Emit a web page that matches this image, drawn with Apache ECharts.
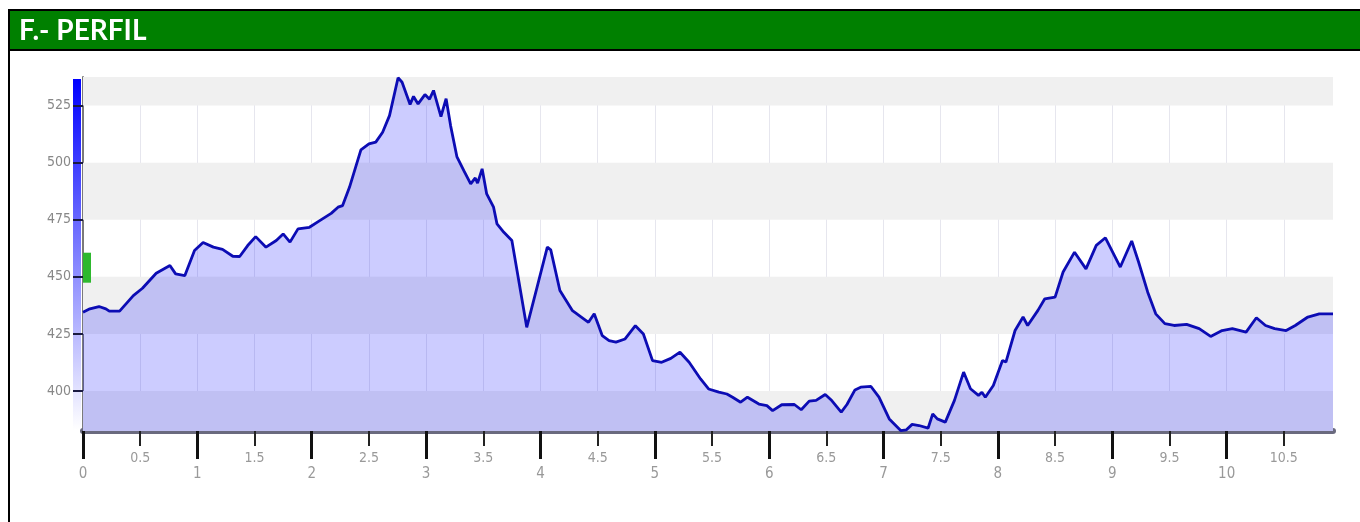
<!DOCTYPE html>
<html><head><meta charset="utf-8">
<script src="https://cdn.jsdelivr.net/npm/echarts@6/dist/echarts.min.js"></script>
<style>html,body{margin:0;padding:0;background:#fff}#c{width:1360px;height:522px}</style>
</head><body><div id="c"></div>
<script>
const title = 'F.- PERFIL';
const distanceKm = [0.00,0.06,0.14,0.20,0.23,0.32,0.44,0.52,0.64,0.76,0.81,0.89,0.975,1.05,1.14,1.22,1.31,1.37,1.44,1.51,1.60,1.69,1.75,1.81,1.88,1.98,2.07,2.17,2.23,2.27,2.33,2.43,2.50,2.56,2.62,2.68,2.755,2.79,2.86,2.89,2.93,2.99,3.03,3.065,3.13,3.175,3.215,3.27,3.33,3.39,3.43,3.45,3.49,3.53,3.59,3.62,3.68,3.75,3.81,3.88,3.97,4.06,4.09,4.17,4.28,4.36,4.42,4.47,4.54,4.60,4.66,4.74,4.83,4.90,4.98,5.06,5.14,5.22,5.30,5.40,5.47,5.56,5.63,5.68,5.75,5.81,5.91,5.98,6.03,6.11,6.22,6.28,6.35,6.41,6.49,6.54,6.63,6.68,6.75,6.80,6.89,6.96,7.05,7.15,7.20,7.25,7.31,7.39,7.43,7.47,7.54,7.62,7.70,7.76,7.83,7.86,7.89,7.96,8.04,8.07,8.15,8.22,8.26,8.35,8.41,8.50,8.57,8.67,8.77,8.86,8.94,9.07,9.17,9.23,9.31,9.38,9.46,9.54,9.65,9.76,9.86,9.96,10.05,10.17,10.26,10.34,10.42,10.52,10.60,10.71,10.81,10.93];
const elevationM = [434.5,436,437,436,435,435,441.8,445,451.6,455,451.3,450.5,461.5,465,463,462,459,458.9,463.7,467.6,463,465.9,468.8,465.2,471,471.7,474.6,477.8,480.5,481.2,489.2,505.6,508.2,509,513.3,520.6,537.2,535.2,525.5,529,525.7,529.8,527.8,531.6,520.2,528,516,502.5,496.5,490.7,493.3,491,497.3,486.3,480.5,473.2,469.5,465.9,448.4,427.9,445.4,463,461.8,444,435.2,432.3,430.1,433.8,424.3,422.1,421.4,422.8,428.6,425,413.3,412.6,414.3,417,412.6,405.3,400.9,399.5,398.7,397.3,395.1,397.3,394.3,393.6,391.4,394,394.1,391.8,395.6,395.9,398.5,396.2,390.8,394.1,400.5,401.7,402,397.3,387.8,382.7,383,385.4,384.9,383.8,390,387.8,386.4,395.9,408.3,401,398.1,399.5,397.3,402.4,413.4,412.7,426.5,432.4,428.7,435.3,440.4,441.1,452.1,460.8,453.5,463.8,467.1,454.3,465.7,456.5,443.3,433.8,429.5,428.7,429.2,427.3,423.9,426.5,427.3,425.8,432.1,428.7,427.3,426.5,428.7,432.4,433.8,433.8];
const yTicks = [400,425,450,475,500,525];
const xHalfTicks = [0,0.5,1,1.5,2,2.5,3,3.5,4,4.5,5,5.5,6,6.5,7,7.5,8,8.5,9,9.5,10,10.5];
const xHalfLabels = [0.5,1.5,2.5,3.5,4.5,5.5,6.5,7.5,8.5,9.5,10.5];
const xIntTicks = [0,1,2,3,4,5,6,7,8,9,10];
const startMarker = [0, 454];
const yMin = 382.5, yMax = 537.5, xMax = 10.93;

const narrow = "'Liberation Sans Narrow','DejaVu Sans Condensed','Roboto Condensed',sans-serif";
const edges = [yMin].concat(yTicks, [yMax]);
const bands = [];
for (let i = 0; i + 1 < edges.length; i += 2) bands.push([{yAxis: edges[i]}, {yAxis: edges[i + 1]}]);
const profile = distanceKm.map((d, i) => [d, elevationM[i]]);

const chart = echarts.init(document.getElementById('c'));
chart.setOption({
  animation: false,
  backgroundColor: '#fff',
  grid: {left: 83, right: 27, top: 77, bottom: 91, containLabel: false},
  xAxis: [{
    type: 'value', min: 0, max: xMax, interval: 0.5, position: 'bottom',
    axisLine: {show: true, onZero: false, lineStyle: {color: '#6a6a7e', width: 6}},
    axisTick: {show: true, length: 15, customValues: xHalfTicks, lineStyle: {color: '#222', width: 2}},
    axisLabel: {show: true, customValues: xHalfLabels, margin: 20, color: '#999', fontSize: 14, fontFamily: narrow},
    splitLine: {show: true, lineStyle: {color: '#e6e6ee', width: 1}}
  }, {
    type: 'value', min: 0, max: xMax, interval: 1, position: 'bottom',
    axisLine: {show: false},
    axisTick: {show: true, length: 28, customValues: xIntTicks, lineStyle: {color: '#111', width: 3}},
    axisLabel: {show: true, customValues: xIntTicks, margin: 36, color: '#999', fontSize: 15, fontFamily: narrow},
    splitLine: {show: false}
  }],
  yAxis: {
    type: 'value', min: yMin, max: yMax,
    axisLine: {show: true, lineStyle: {color: '#7a7a7a', width: 2}},
    axisTick: {show: true, length: 10, customValues: yTicks, lineStyle: {color: '#1a1a40', width: 2}},
    axisLabel: {show: true, customValues: yTicks, margin: 12, color: '#888', fontSize: 14, fontFamily: narrow},
    splitLine: {show: false}
  },
  graphic: [
    {type: 'rect', z: 100, shape: {x: 10, y: 11, width: 1352, height: 38}, style: {fill: '#008000'}},
    {type: 'rect', z: 101, shape: {x: 9, y: 10, width: 1360, height: 540}, style: {fill: 'none', stroke: '#000', lineWidth: 2}},
    {type: 'line', z: 101, shape: {x1: 9, y1: 50, x2: 1362, y2: 50}, style: {stroke: '#000', lineWidth: 2}},
    {type: 'text', z: 102, style: {text: title, x: 19, y: 31, verticalAlign: 'middle', fill: '#fff', font: "bold 28px Lato, 'Open Sans', sans-serif"}},
    {type: 'rect', z: -1, shape: {x: 73, y: 79, width: 8, height: 351},
      style: {fill: new echarts.graphic.LinearGradient(0, 0, 0, 1, [{offset: 0, color: '#0000ff'}, {offset: 1, color: '#ffffff'}])}}
  ],
  series: [{
    type: 'line', data: [], z: 1, silent: true,
    markArea: {silent: true, itemStyle: {color: '#f0f0f0'}, data: bands}
  }, {
    type: 'line', data: profile, z: 3, showSymbol: false, smooth: false,
    lineStyle: {color: '#0c0cb4', width: 2.8},
    areaStyle: {color: '#0000ff', opacity: 0.2, origin: 'start'},
    markPoint: {silent: true, data: [{coord: startMarker, symbol: 'rect', symbolSize: [8, 30], symbolOffset: [4, 0], itemStyle: {color: '#2eb82e'}, label: {show: false}}]}
  }]
});
</script></body></html>
